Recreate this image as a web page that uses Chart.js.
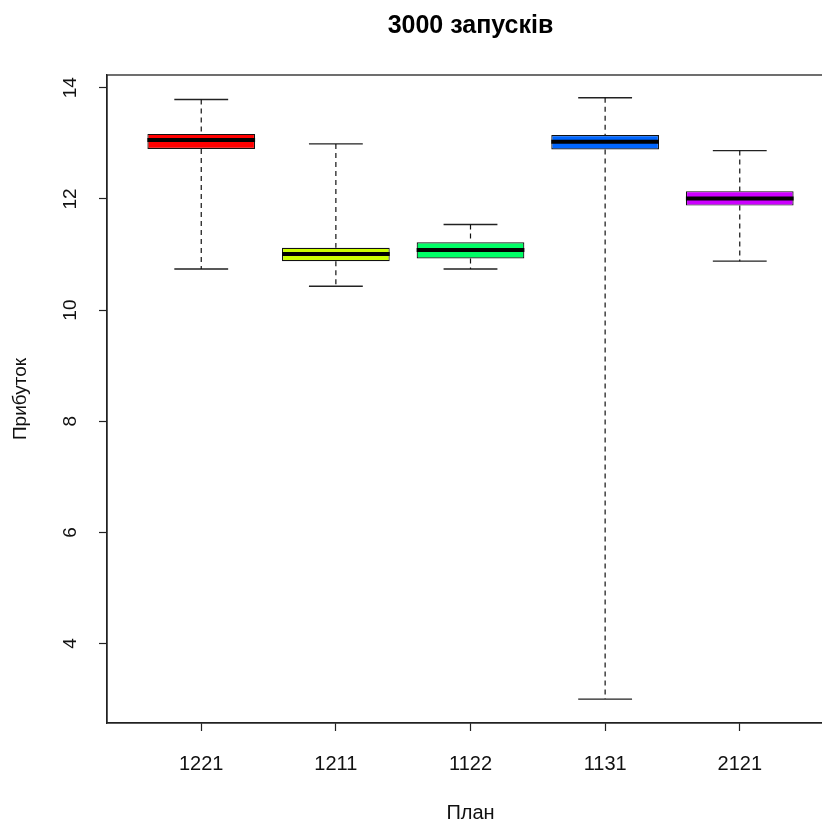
<!DOCTYPE html>
<html>
<head>
<meta charset="utf-8">
<script src="https://cdn.jsdelivr.net/npm/chart.js@4/dist/chart.umd.min.js"></script>
<style>
html,body{margin:0;padding:0;background:#fff;overflow:hidden;width:822px;height:825px;}
#wrap{position:relative;width:845px;height:825px;}
canvas{display:block;}
</style>
</head>
<body>
<div id="wrap"><canvas id="c" width="845" height="825"></canvas></div>
<script>
// ---- data ----
const categories = ['1221', '1211', '1122', '1131', '2121'];
const whiskerLow  = [10.74, 10.43, 10.74, 3.00, 10.88];
const quartile1   = [12.90, 10.88, 10.93, 12.89, 11.88];
const medians     = [13.06, 11.01, 11.08, 13.03, 12.01];
const quartile3   = [13.17, 11.12, 11.22, 13.15, 12.14];
const whiskerHigh = [13.79, 12.99, 11.54, 13.82, 12.87];
const yTickValues = [4, 6, 8, 10, 12, 14];
const titleText = '3000 запусків';
const xTitle = 'План';
const yTitle = 'Прибуток';

// ---- styles ----
const boxColors = ['#FF0000', '#CCFF00', '#00FF66', '#0066FF', '#CC00FF'];
const BOX_HALF = 0.4, CAP_HALF = 0.2;
const FONT = "'Liberation Sans', Arial, sans-serif";

const xs = categories.map((_, i) => i + 1);

const boxData = xs.map((x, i) => ({x: x, y: [quartile1[i], quartile3[i]]}));

const medianData = [];
xs.forEach((x, i) => {
  medianData.push({x: x - BOX_HALF, y: medians[i]}, {x: x + BOX_HALF, y: medians[i]}, {x: x + 0.5, y: null});
});
const whiskerData = [];
xs.forEach((x, i) => {
  whiskerData.push({x: x, y: whiskerHigh[i]}, {x: x, y: quartile3[i]}, {x: x, y: null});
  whiskerData.push({x: x, y: quartile1[i]}, {x: x, y: whiskerLow[i]}, {x: x, y: null});
});
const capData = [];
xs.forEach((x, i) => {
  capData.push({x: x - CAP_HALF, y: whiskerHigh[i]}, {x: x + CAP_HALF, y: whiskerHigh[i]}, {x: x + 0.5, y: null});
  capData.push({x: x - CAP_HALF, y: whiskerLow[i]}, {x: x + CAP_HALF, y: whiskerLow[i]}, {x: x + 0.5, y: null});
});

const frame = {
  id: 'frame',
  afterDraw(chart) {
    const a = chart.chartArea, ctx = chart.ctx;
    ctx.save();
    ctx.strokeStyle = '#222';
    ctx.lineWidth = 1.3;
    ctx.strokeRect(a.left, a.top, a.right - a.left, a.bottom - a.top);
    ctx.restore();
  }
};

const lineBase = {type: 'line', pointRadius: 0, pointHoverRadius: 0, spanGaps: false, tension: 0, fill: false, borderCapStyle: 'butt'};

new Chart(document.getElementById('c'), {
  type: 'bar',
  data: {
    datasets: [
      Object.assign({}, lineBase, {label: 'medians', data: medianData, borderColor: '#000', borderWidth: 4, order: 0}),
      {type: 'bar', label: 'boxes', data: boxData, backgroundColor: boxColors, borderColor: '#111', borderWidth: 1.2,
       borderSkipped: false, categoryPercentage: 1.0, barPercentage: 0.8, order: 1},
      Object.assign({}, lineBase, {label: 'whiskers', data: whiskerData, borderColor: '#111', borderWidth: 1.2, borderDash: [5, 4], order: 2}),
      Object.assign({}, lineBase, {label: 'caps', data: capData, borderColor: '#222', borderWidth: 1.4, order: 3})
    ]
  },
  options: {
    responsive: false,
    animation: false,
    devicePixelRatio: 1,
    layout: {padding: {left: 0, right: 11, top: 0, bottom: 0}},
    plugins: {
      legend: {display: false},
      tooltip: {enabled: false},
      title: {display: true, fullSize: false, text: titleText, color: '#000',
              font: {family: FONT, size: 25, weight: 'bold'}, padding: {top: 11, bottom: 34}}
    },
    scales: {
      x: {
        type: 'linear', min: 0.3, max: 5.7, offset: false,
        afterBuildTicks: s => { s.ticks = xs.map(v => ({value: v})); },
        afterFit: s => { s.height = 102; },
        ticks: {callback: v => categories[v - 1], color: '#111', padding: 21, maxRotation: 0, autoSkip: false,
                font: {family: FONT, size: 20}},
        grid: {display: true, drawOnChartArea: false, drawTicks: true, tickLength: 8, tickColor: '#222', offset: false, tickWidth: 1.2},
        border: {display: true, color: '#222', width: 1.3},
        title: {display: true, text: xTitle, color: '#111', font: {family: FONT, size: 20}, padding: {top: 0, bottom: 0}}
      },
      y: {
        type: 'linear', min: 2.57, max: 14.23, beginAtZero: false,
        afterBuildTicks: s => { s.ticks = yTickValues.map(v => ({value: v})); },
        afterFit: s => { s.width = 107; },
        ticks: {color: '#111', minRotation: 90, maxRotation: 90, crossAlign: 'center', padding: 17.5,
                font: {family: FONT, size: 19}},
        grid: {display: true, drawOnChartArea: false, drawTicks: true, tickLength: 8, tickColor: '#222', tickWidth: 1.2},
        border: {display: true, color: '#222', width: 1.3},
        title: {display: true, text: yTitle, color: '#111', font: {family: FONT, size: 19}, padding: {top: 9, bottom: 0}}
      }
    }
  },
  plugins: [frame]
});
</script>
</body>
</html>
